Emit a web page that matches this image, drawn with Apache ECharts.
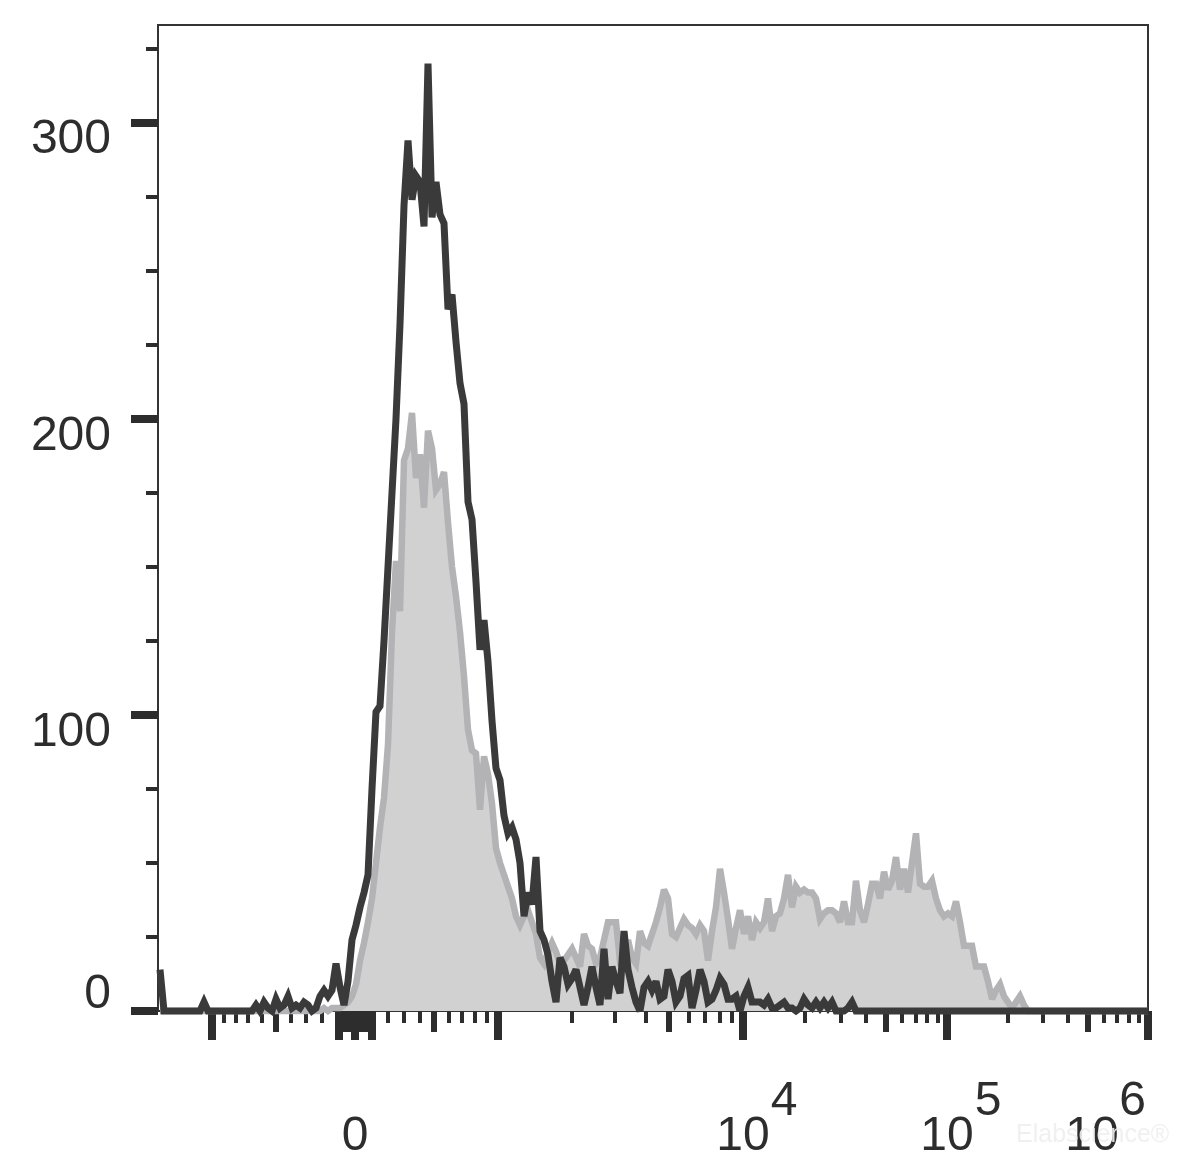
<!DOCTYPE html>
<html><head><meta charset="utf-8">
<script src="https://cdn.jsdelivr.net/npm/echarts@6/dist/echarts.min.js"></script>
<style>html,body{margin:0;padding:0;background:#fff}#c{width:1204px;height:1170px}</style>
</head><body><div id="c"></div>
<script>
// ---- data: histogram counts per display bin (248 bins across the axis) ----
const binCount = 248;
const darkCounts = [
14,0,0,0,0,0,0,0,0,0,
0,3,0,0,0,0,0,0,0,0,
0,0,0,0,2,0,3,1,0,4,
1,2,5,1,2,1,3,2,0,1,
5,7,5,7,16,8,2,10,24,29,
35,40,46,75,101,103,125,150,175,200,
232,272,294,274,282,280,265,320,268,280,
269,266,237,242,226,212,205,172,166,145,
122,132,118,98,82,78,66,60,62,58,
50,32,40,36,52,27,24,19,10,3,
18,15,9,11,14,8,2,8,15,8,
2,21,4,15,10,6,27,14,8,3,
0,8,10,7,10,4,5,14,10,3,
5,11,12,1,7,14,10,3,4,7,
11,9,4,4,5,0,5,8,3,3,
3,2,4,1,1,2,3,1,1,0,
1,4,2,1,3,1,3,1,3,0,
0,0,1,3,0,0,0,0,0,0,
0,0,0,0,0,0,0,0,0,0,
0,0,0,0,0,0,0,0,0,0,
0,0,0,0,0,0,0,0,0,0,
0,0,0,0,0,0,0,0,0,0,
0,0,0,0,0,0,0,0,0,0,
0,0,0,0,0,0,0,0,0,0,
0,0,0,0,0,0,0,0
];
const grayCounts = [
0,0,0,0,0,0,0,0,0,0,
0,0,0,0,0,0,0,0,0,0,
0,0,0,0,0,0,0,0,0,0,
0,0,0,0,0,0,0,0,0,0,
0,1,0,1,1,1,2,3,5,9,
17,23,30,38,50,62,72,90,128,152,
135,186,190,202,180,188,170,196,190,176,
178,182,165,150,140,128,113,95,88,87,
68,86,80,70,55,50,46,42,38,32,
29,32,34,30,26,18,16,20,23,20,
16,17,19,21,18,15,26,22,21,16,
18,24,30,30,30,17,18,24,18,16,
27,23,22,26,30,35,41,38,26,25,
28,31,29,28,26,29,27,17,27,35,
48,40,31,21,28,34,26,32,24,30,
28,30,38,27,32,33,38,46,35,42,
40,41,40,40,38,31,33,34,34,33,
30,37,30,30,44,34,30,36,43,43,
38,47,41,44,52,41,48,40,50,60,
43,42,42,44,38,34,32,33,32,37,
30,22,22,22,15,15,15,10,4,7,
9,5,3,1,3,5,2,0,0,0,
0,0,0,0,0,0,0,0,0,0,
0,0,0,0,0,0,0,0,0,0,
0,0,0,0,0,0,0,0
];

// ---- axis tick values (in fluorescence units) ----
const yMajorTicks = [0, 100, 200, 300];
const yUpperLabels = [100, 200, 300];
const yLowerLabels = [0];
const yMinorTicks = [25, 50, 75, 125, 150, 175, 225, 250, 275, 325];

const xMajorTicks = [-1000, -100, 0, 100, 1000, 10000, 100000, 1000000];
const xMidTicks = [-500, -90, -80, -70, -60, -50, -40, -30, -20, -10,
                   10, 20, 30, 40, 50, 60, 70, 80, 90, 500, 5000, 50000, 500000];
const xMinorTicks = [-900, -800, -700, -600, -400, -300, -200,
                     200, 300, 400, 600, 700, 800, 900,
                     2000, 3000, 4000, 6000, 7000, 8000, 9000,
                     20000, 30000, 40000, 60000, 70000, 80000, 90000,
                     200000, 300000, 400000, 600000, 700000, 800000, 900000];
const xLabelValues = [0, 10000, 100000, 1000000];
const xLabelBase = ['0', '10', '10', '10'];
const xLabelExp = ['', '4', '5', '6'];

// ---- biexponential display scale (display units = bins) ----
const SCALE = {
  zero: 49.25, halfWidth: 35.75, cofactor: 900, linLimit: 1000,
  decades: [[1e3, 85], [1e4, 146.25], [1e5, 197.25], [1e6, 247.5]]
};
function toDisplay(v) {
  if (Math.abs(v) <= SCALE.linLimit) {
    return SCALE.zero + Math.sign(v) * SCALE.halfWidth *
      Math.asinh(Math.abs(v) / SCALE.cofactor) / Math.asinh(SCALE.linLimit / SCALE.cofactor);
  }
  const d = SCALE.decades;
  for (let k = 0; k < d.length - 1; k++) {
    if (v <= d[k + 1][0]) return d[k][1] + (d[k + 1][1] - d[k][1]) * Math.log10(v / d[k][0]);
  }
  return d[d.length - 1][1];
}
const xMin = 0, xMax = 247.5;
const labelPos = xLabelValues.map(toDisplay);
function labelIndex(val) {
  let best = 0;
  for (let k = 1; k < labelPos.length; k++) if (Math.abs(labelPos[k] - val) < Math.abs(labelPos[best] - val)) best = k;
  return best;
}

const FONT = "'Liberation Sans', Arial, Helvetica, sans-serif";
const INK = '#2d2d2d';

function xAxisBase(extra) {
  return Object.assign({
    type: 'value', min: xMin, max: xMax, position: 'bottom', offset: 5,
    axisLine: { show: false }, splitLine: { show: false },
    axisTick: { show: false }, axisLabel: { show: false }
  }, extra);
}
function yAxisBase(extra) {
  return Object.assign({
    type: 'value', min: 0, max: 333, position: 'left',
    axisLine: { show: false }, splitLine: { show: false },
    axisTick: { show: false }, axisLabel: { show: false }
  }, extra);
}

const chart = echarts.init(document.getElementById('c'), null, { renderer: 'canvas' });
chart.setOption({
  animation: false,
  backgroundColor: '#ffffff',
  grid: { left: 158, top: 25, right: 56, bottom: 159, outerBoundsMode: 'none', containLabel: false,
          show: true, borderColor: '#333333', borderWidth: 2, backgroundColor: 'transparent' },
  xAxis: [
    xAxisBase({
      axisTick: { show: true, customValues: xMajorTicks.map(toDisplay), length: 29, lineStyle: { color: INK, width: 8 } },
      axisLabel: {
        show: true, customValues: labelPos, margin: 97, color: INK, fontFamily: FONT, fontSize: 48, lineHeight: 48,
        formatter: function (val) {
          const k = labelIndex(val);
          if (k === labelPos.length - 1) return '{b|' + xLabelBase[k] + '}{sp|}';
          return '{b|' + xLabelBase[k] + '}';
        },
        rich: {
          b: { fontFamily: FONT, fontSize: 48, lineHeight: 48, color: INK },
          sp: { width: 112, lineHeight: 48 }
        }
      }
    }),
    xAxisBase({ axisTick: { show: true, customValues: xMidTicks.map(toDisplay), length: 21, lineStyle: { color: INK, width: 6 } } }),
    xAxisBase({ axisTick: { show: true, customValues: xMinorTicks.map(toDisplay), length: 12, lineStyle: { color: INK, width: 4 } } }),
    xAxisBase({
      axisLabel: {
        show: true, customValues: labelPos.slice(1), margin: 62, color: INK, fontFamily: FONT, fontSize: 48, lineHeight: 48,
        formatter: function (val) {
          const k = labelIndex(val);
          if (k === labelPos.length - 1) return '{s|' + xLabelExp[k] + '}{sp2|}';
          return '{sp|}{s|' + xLabelExp[k] + '}';
        },
        rich: {
          s: { fontFamily: FONT, fontSize: 48, lineHeight: 48, color: INK },
          sp: { width: 82, lineHeight: 48 },
          sp2: { width: 31, lineHeight: 48 }
        }
      }
    })
  ],
  yAxis: [
    yAxisBase({
      axisTick: { show: true, customValues: yMajorTicks, length: 27, lineStyle: { color: INK, width: 8 } },
      axisLabel: { show: true, customValues: yUpperLabels, margin: 47, verticalAlign: 'top', lineHeight: 35, color: INK, fontFamily: FONT, fontSize: 48 }
    }),
    yAxisBase({
      axisLabel: { show: true, customValues: yLowerLabels, margin: 47, verticalAlign: 'bottom', lineHeight: 32, color: INK, fontFamily: FONT, fontSize: 48 }
    }),
    yAxisBase({ axisTick: { show: true, customValues: yMinorTicks, length: 12, lineStyle: { color: INK, width: 4 } } })
  ],
  series: [
    {
      name: 'Control', type: 'line', xAxisIndex: 0, yAxisIndex: 0, clip: false,
      symbol: 'none', smooth: false,
      data: grayCounts.map((c, i) => [i + 0.5, c]),
      lineStyle: { color: '#b3b3b6', width: 6.5, join: 'miter', miterLimit: 3 },
      areaStyle: { color: '#d1d1d1', opacity: 1 },
      z: 2
    },
    {
      name: 'Stained', type: 'line', xAxisIndex: 0, yAxisIndex: 0, clip: false,
      symbol: 'none', smooth: false,
      data: darkCounts.map((c, i) => [i + 0.5, c]),
      lineStyle: { color: '#3a3a3a', width: 7, join: 'miter', miterLimit: 3 },
      z: 3
    }
  ],
  graphic: [
    { type: 'text', left: 1016, top: 1123, z: 100, silent: true,
      style: { text: 'Elabscience\u00AE', fontSize: 25, fontFamily: FONT, fill: 'rgba(238,238,238,0.9)' } }
  ]
});
</script></body></html>
